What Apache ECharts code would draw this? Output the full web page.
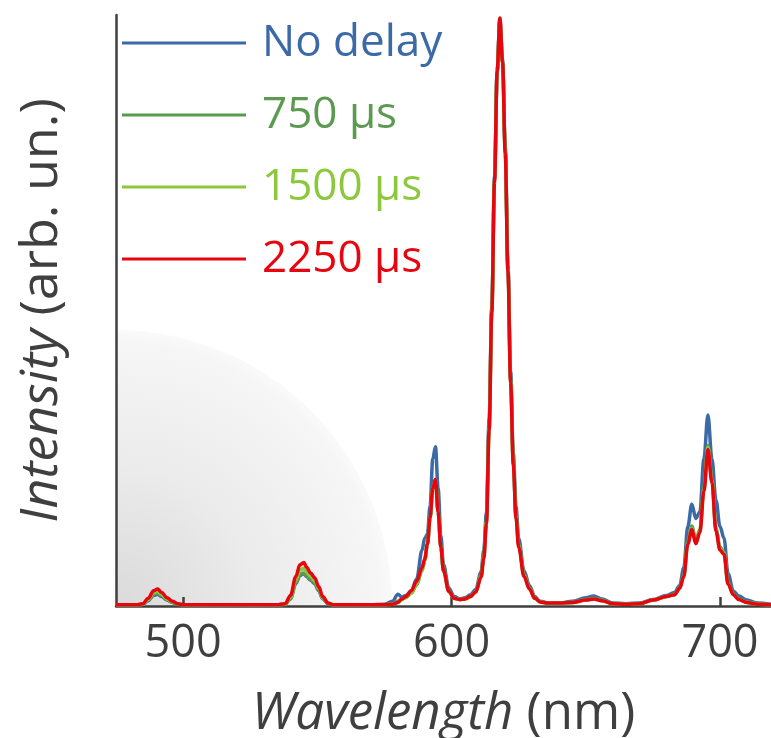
<!DOCTYPE html>
<html>
<head>
<meta charset="utf-8">
<script src="https://cdn.jsdelivr.net/npm/echarts@6/dist/echarts.min.js"></script>
<style>
html,body{margin:0;padding:0;background:#fff;}
#chart{width:771px;height:738px;}
</style>
</head>
<body>
<div id="chart"></div>
<script>
// Wavelength grid (nm)
const wavelengths = [475,480,483,485,487,489,490.5,492,494,496,498,500,510,520,530,535,538,540,542,543.5,545,546,547.5,549,550.5,552,554,556,560,570,575,578,580,581.5,583,585,587,589,590,591,592,593,594,595,596,597,599,601,603,605,607,609,611,612,613,614,615,616,617,618,619,620,621,622,623,624,625,627,629,631,633,636,640,645,650,653,656,660,665,670,675,680,683,685,686.5,688,689.5,691,692.5,694,695.5,697,698.5,700,701.5,703,705,707,710,714,719];

const noDelay = [0.2,0.2,0.2,0.3,0.9,1.8,2.0,1.6,1.0,0.6,0.3,0.2,0.2,0.2,0.2,0.2,0.3,1.2,3.8,5.2,5.5,5.0,4.4,3.8,2.6,1.2,0.4,0.2,0.2,0.2,0.3,0.8,2.0,1.5,1.8,2.6,4.6,9.5,11.5,12.2,17,25,27.1,20,12,7,3.0,1.6,1.2,1.4,1.9,2.8,5.8,9.5,16,32,51,73,91,99.5,93,78,58,40,26,17,11.5,6,3.5,1.6,0.8,0.5,0.5,0.8,1.4,1.7,1.2,0.5,0.4,0.5,1.1,1.8,2.3,3.5,6.5,13.5,17.3,14.9,16,25,32.5,25,18,13.5,11.5,5.5,2.5,1.7,1.0,0.5,0.3];

const delay750 = [0.2,0.2,0.2,0.3,1.0,2.0,2.2,1.8,1.1,0.6,0.3,0.2,0.2,0.2,0.2,0.2,0.3,1.3,4.0,5.4,5.6,5.1,4.5,3.9,2.7,1.3,0.4,0.2,0.2,0.2,0.2,0.4,0.8,1.2,1.5,2.2,3.6,6.0,7.8,10.5,15,20,21.5,16,10,6,2.5,1.3,1.1,1.2,1.6,2.5,5.2,8.6,14.8,30.5,50.5,72.5,91,99.6,92.5,77.5,57.5,38.5,24.5,15.5,10.5,5.4,3.1,1.4,0.7,0.5,0.5,0.6,1.1,1.3,1.0,0.4,0.3,0.4,1.0,1.6,2.0,3.1,5.3,11,13.6,11.1,13,20.2,27.3,21.6,13.2,10,9.2,4.0,2.0,1.2,0.7,0.4,0.2];

const delay1500 = [0.2,0.2,0.2,0.3,1.1,2.3,2.5,2.0,1.2,0.7,0.4,0.2,0.2,0.2,0.2,0.2,0.3,1.5,4.4,6.1,6.4,5.8,5.0,4.3,3.0,1.4,0.5,0.2,0.2,0.2,0.2,0.3,0.6,1.1,1.4,2.2,3.8,6.2,7.8,10.5,15,20,21.5,16,10,6,2.5,1.3,1.1,1.2,1.6,2.4,5.0,8.3,14.3,30.2,50.2,72.2,91,99.8,92.5,77.2,57.2,38.2,24.2,15.2,10.2,5.2,3.0,1.3,0.7,0.5,0.5,0.6,1.0,1.2,0.9,0.4,0.3,0.4,1.0,1.6,1.9,3.0,5.1,10.7,13.2,10.8,12.7,19.8,27,21.3,13,9.7,9.0,3.8,1.9,1.1,0.6,0.3,0.2];

const delay2250 = [0.2,0.2,0.2,0.4,1.3,2.6,2.9,2.3,1.4,0.8,0.4,0.2,0.2,0.2,0.2,0.2,0.4,1.8,5.0,7.0,7.4,6.6,5.6,4.8,3.3,1.6,0.5,0.2,0.2,0.2,0.2,0.3,0.6,1.2,1.6,2.6,4.2,6.5,8.0,10.5,15,20,21.5,16,10,6,2.5,1.3,1.1,1.2,1.6,2.4,4.9,8.0,14,30,50,72,91,100,92.5,77,57,38,24,15,10,5,2.9,1.3,0.7,0.5,0.5,0.6,1.0,1.2,0.9,0.4,0.3,0.4,1.0,1.6,1.9,3.0,5.0,10.5,13.0,10.6,12.5,19.5,26.6,21,12.7,9.5,8.8,3.7,1.9,1.1,0.6,0.3,0.2];

const seriesNames = ['No delay','750 μs','1500 μs','2250 μs'];
const seriesValues = [noDelay, delay750, delay1500, delay2250];
const seriesColors = ['#3b6aa7','#5b9a50','#8cc83c','#e5060f'];
const xTicks = [500,600,700];

const FONT = '"Open Sans", "Noto Sans", sans-serif';
const AXIS_COLOR = '#3f3f3f';

const chart = echarts.init(document.getElementById('chart'), null, {renderer:'canvas'});

const series = seriesNames.map((name, k) => ({
  name: name,
  type: 'line',
  data: wavelengths.map((w, i) => [w, seriesValues[k][i]]),
  showSymbol: false,
  symbol: 'none',
  smooth: 0.35,
  smoothMonotone: 'x',
  lineStyle: {color: seriesColors[k], width: 3.5},
  itemStyle: {color: seriesColors[k]},
  z: 2 + k,
  silent: true,
  animation: false
}));

chart.setOption({
  animation: false,
  backgroundColor: '#ffffff',
  grid: {left: 116, right: 0, top: 15, bottom: 132, containLabel: false, outerBoundsMode: 'none'},
  graphic: [{
    type: 'sector',
    z: -10,
    silent: true,
    shape: {cx: 116, cy: 606, r0: 0, r: 276, startAngle: -Math.PI / 2, endAngle: 0, clockwise: true},
    style: {
      fill: {
        type: 'radial', x: 116, y: 606, r: 276, global: true,
        colorStops: [
          {offset: 0, color: '#dadada'},
          {offset: 0.5, color: '#ebebeb'},
          {offset: 0.96, color: '#f6f6f6'},
          {offset: 1, color: '#fafafa'}
        ]
      }
    }
  }],
  legend: {
    orient: 'vertical',
    left: 122,
    top: 11,
    padding: 0,
    icon: 'rect',
    itemWidth: 124,
    itemHeight: 3,
    itemGap: 8,
    selectedMode: false,
    data: seriesNames.map((n, k) => ({name: n, textStyle: {color: seriesColors[k]}})),
    textStyle: {fontFamily: FONT, fontSize: 44, lineHeight: 48, padding: [16, 0, 0, 11]}
  },
  xAxis: {
    type: 'value',
    min: 475,
    max: 719,
    name: '{i|Wavelength} (nm)',
    nameLocation: 'middle',
    nameGap: 83,
    nameTextStyle: {
      fontFamily: FONT, fontSize: 51, color: AXIS_COLOR,
      rich: {i: {fontFamily: FONT, fontSize: 51, fontStyle: 'italic', color: AXIS_COLOR}}
    },
    axisLine: {show: true, lineStyle: {color: AXIS_COLOR, width: 2.5}},
    axisTick: {show: true, inside: true, length: 9, customValues: xTicks, lineStyle: {color: AXIS_COLOR, width: 2.5}},
    axisLabel: {show: true, customValues: xTicks, margin: 16, fontFamily: FONT, fontSize: 45, color: AXIS_COLOR},
    splitLine: {show: false}
  },
  yAxis: {
    type: 'value',
    min: 0,
    max: 100.5,
    name: '{i|Intensity} (arb. un.)',
    nameLocation: 'middle',
    nameGap: 48,
    nameRotate: 90,
    nameTextStyle: {
      fontFamily: FONT, fontSize: 52, color: AXIS_COLOR,
      rich: {i: {fontFamily: FONT, fontSize: 52, fontStyle: 'italic', color: AXIS_COLOR}}
    },
    axisLine: {show: true, lineStyle: {color: AXIS_COLOR, width: 2.5}},
    axisTick: {show: false},
    axisLabel: {show: false},
    splitLine: {show: false}
  },
  series: series
});
</script>
</body>
</html>
